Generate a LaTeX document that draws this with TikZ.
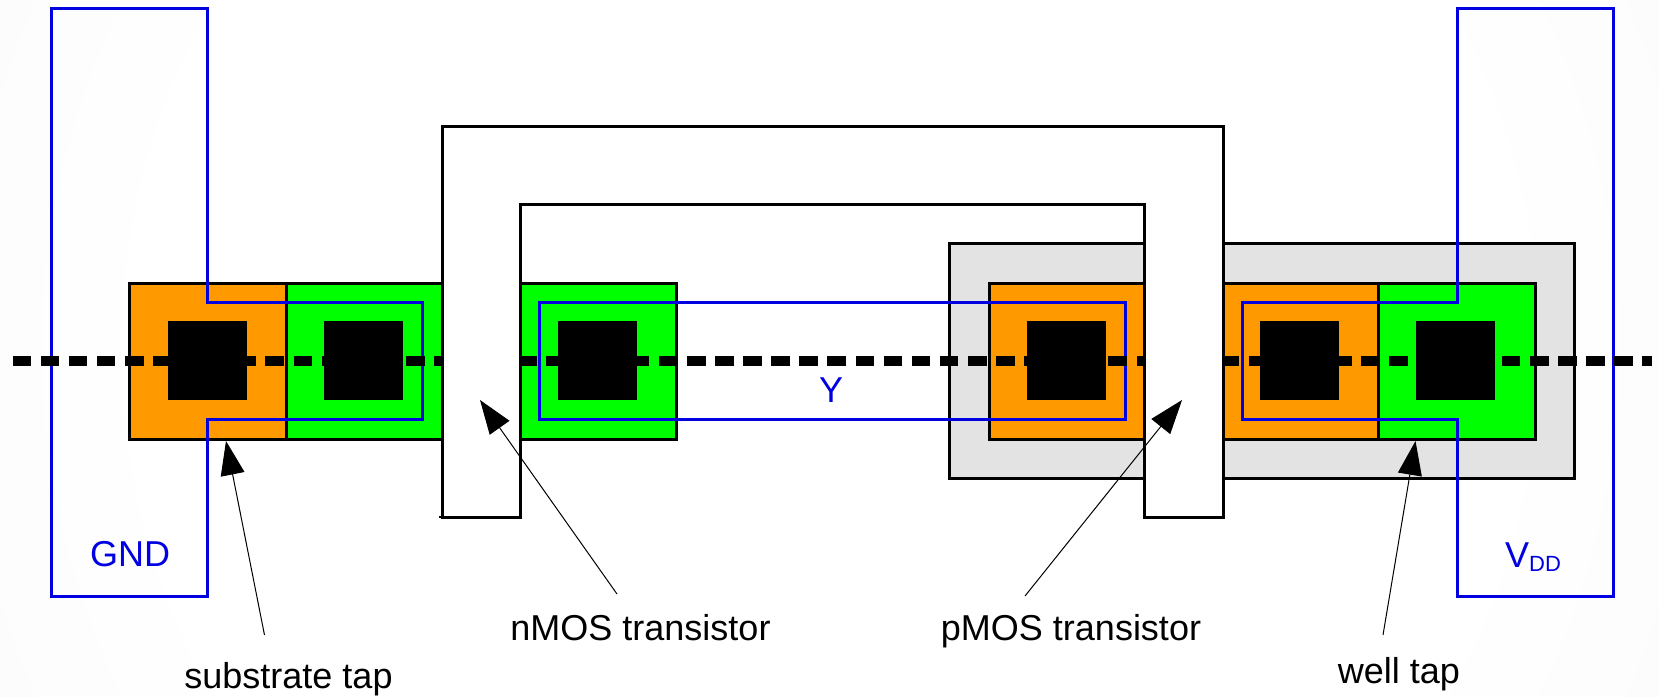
\documentclass[tikz,border=0pt]{standalone}
\usepackage{fontspec}
\setmainfont{Liberation Sans}
\usetikzlibrary{arrows.meta,shadings}
\definecolor{ora}{HTML}{FF9900}
\definecolor{gre}{HTML}{00FF00}
\definecolor{wel}{HTML}{E3E3E3}
\definecolor{mblue}{HTML}{0000E0}
\definecolor{bgcorner}{HTML}{F0F0F0}
\pgfdeclareradialshading{bgshade}{\pgfpoint{0bp}{0bp}}{color(0bp)=(white);color(18bp)=(white);color(50bp)=(bgcorner)}
\tikzset{
  x=1pt,y=-1pt,
  diff/.style={draw=black,line width=3pt,line join=miter},
  contact/.style={fill=black,draw=none},
  metal/.style={draw=mblue,line width=3pt,line join=miter},
  lab/.style={font=\fontsize{36}{40}\selectfont,inner sep=0pt,anchor=base},
  mlab/.style={lab,text=mblue},
  pointer/.style={draw=black,line width=1pt,-{Triangle[length=34pt,width=24pt,fill=black]}},
}
\begin{document}
\begin{tikzpicture}
\useasboundingbox (0,0) rectangle (1659,696);
% background
\begin{scope}
\clip (0,0) rectangle (1659,696);
\shade[shading=bgshade] (-100,-582) rectangle (1760,1278);
\end{scope}
% n well
\draw[diff,fill=wel] (949,243) rectangle (1574,478);
% diffusions
\draw[diff,fill=ora] (129,283) rectangle (286,439);
\draw[diff,fill=gre] (286,283) rectangle (442,439);
\draw[diff,fill=gre] (520,283) rectangle (676,439);
\draw[diff,fill=ora] (989,283) rectangle (1145,439);
\draw[diff,fill=ora] (1223,283) rectangle (1378,439);
\draw[diff,fill=gre] (1378,283) rectangle (1535,439);
% contacts
\fill[contact] (168,321) rectangle (247,400);
\fill[contact] (324,321) rectangle (403,400);
\fill[contact] (558,321) rectangle (637,400);
\fill[contact] (1027,321) rectangle (1106,400);
\fill[contact] (1260,321) rectangle (1339,400);
\fill[contact] (1416,321) rectangle (1495,400);
% metal
\draw[metal] (51,8.5) -- (207,8.5) -- (207,302) -- (422,302) -- (422,419.5) -- (207,419.5) -- (207,596) -- (51,596) -- cycle;
\draw[metal] (539,302) rectangle (1125,419.5);
\draw[metal] (1613.5,8.5) -- (1457,8.5) -- (1457,302) -- (1242.5,302) -- (1242.5,419.5) -- (1457,419.5) -- (1457,596) -- (1613.5,596) -- cycle;
% section line
\draw[black,line width=9.5pt,dash pattern=on 18.6pt off 9.5pt] (12.5,361) -- (1652,361);
% polysilicon
\draw[diff,fill=white] (442,517) -- (442,126) -- (1223,126) -- (1223,517) -- (1144.5,517) -- (1144.5,204) -- (520,204) -- (520,517) -- cycle;
\draw[black,line width=2pt] (438.5,517) -- (442,517);
% labels
\node[mlab] (gnd) at (130,566) {GND};
\node[mlab] (y) at (831,402) {Y};
\node[mlab] (vdd) at (1533,567) {V\raisebox{-4pt}{\fontsize{22}{22}\selectfont DD}};
\node[lab] (subtap) at (288.5,688) {substrate tap};
\node[lab] (nmos) at (640.5,640) {nMOS transistor};
\node[lab] (pmos) at (1071,640) {pMOS transistor};
\node[lab] (welltap) at (1399,683) {well tap};
% pointers
\coordinate (subtip) at (226,441);
\coordinate (subfrom) at (264.5,635);
\coordinate (ntip) at (480,400);
\coordinate (nfrom) at (617,594);
\coordinate (ptip) at (1182,400);
\coordinate (pfrom) at (1025,596);
\coordinate (wtip) at (1415.5,441);
\coordinate (wfrom) at (1383,635);
\draw[pointer] (subfrom) -- (subtip);
\draw[pointer] (nfrom) -- (ntip);
\draw[pointer] (pfrom) -- (ptip);
\draw[pointer] (wfrom) -- (wtip);
\end{tikzpicture}
\end{document}
